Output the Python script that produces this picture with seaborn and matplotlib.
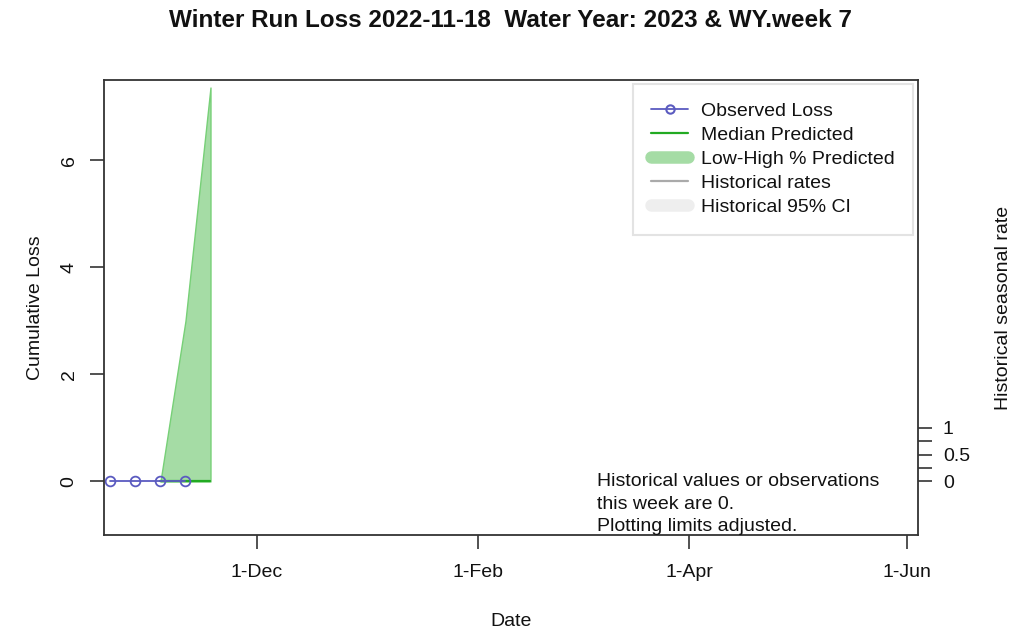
import pandas as pd
import matplotlib
matplotlib.use("Agg")
import matplotlib.pyplot as plt
from matplotlib.lines import Line2D
import seaborn as srn

# -------------------------------
# Dados
# -------------------------------
obs_datas = ["2022-10-21", "2022-10-28", "2022-11-04", "2022-11-11"]
obs_perda = [0, 0, 0, 0]

pred_datas = ["2022-11-04", "2022-11-11", "2022-11-18"]
pred_mediana = [0, 0, 0]
pred_baixo = [0, 0, 0]
pred_alto = [0, 3.0, 7.36]

x_ticks = ["2022-12-01", "2023-02-01", "2023-04-01", "2023-06-01"]
x_tick_labels = ["1-Dec", "1-Feb", "1-Apr", "1-Jun"]
y_ticks = [0, 2, 4, 6]
dir_ticks = [0, 0.25, 0.5, 0.75, 1]
dir_tick_labels = ["0", "", "0.5", "", "1"]

observado = pd.DataFrame({"Data": pd.to_datetime(obs_datas), "Perda": obs_perda})
previsto = pd.DataFrame({"Data": pd.to_datetime(pred_datas), "Mediana": pred_mediana,
                         "Baixo": pred_baixo, "Alto": pred_alto})

# -------------------------------
# Estilo
# -------------------------------
srn.set_style("white")
plt.rcParams["font.family"] = ["Liberation Sans", "DejaVu Sans"]
plt.rcParams["font.size"] = 14
plt.rcParams["text.color"] = "#111111"
plt.rcParams["axes.labelcolor"] = "#111111"
plt.rcParams["xtick.labelcolor"] = "#111111"
plt.rcParams["ytick.labelcolor"] = "#111111"

cor_obs = "#5B5BC0"
cor_med = "#22AA22"
cor_faixa = "#A5DCA5"

fig = plt.figure(figsize=(10.15, 6.33), dpi=100)
ax = fig.add_axes([0.1025, 0.1548, 0.8019, 0.7188])

# faixa baixo-alto
ax.fill_between(previsto["Data"], previsto["Baixo"], previsto["Alto"],
                facecolor=cor_faixa, edgecolor="#77D077", linewidth=1)
srn.lineplot(data=previsto, x="Data", y="Mediana", color=cor_med, linewidth=1.6, ax=ax)
srn.lineplot(data=observado, x="Data", y="Perda", color=cor_obs, linewidth=1.3,
             marker="o", markersize=7, markerfacecolor="none", markeredgecolor=cor_obs,
             markeredgewidth=1.3, ax=ax)

ax.set_xlim(pd.Timestamp("2022-10-19 05:00"), pd.Timestamp("2023-06-04"))
ax.set_ylim(-1.0, 7.5)
ax.set_xticks(pd.to_datetime(x_ticks))
ax.set_xticklabels(x_tick_labels)
ax.set_yticks(y_ticks)
ax.set_yticklabels([str(v) for v in y_ticks], rotation=90, va="center")
ax.set_xlabel("Date", labelpad=23)
ax.set_ylabel("Cumulative Loss", labelpad=12)
ax.tick_params(axis="both", direction="out", length=10, width=1.2, color="#333333",
               pad=11, left=True, bottom=True)
ax.tick_params(axis="y", pad=9)
for s in ax.spines.values():
    s.set_color("#333333")
    s.set_linewidth(1.3)

# eixo da direita
ax2 = ax.twinx()
ax2.set_ylim(ax.get_ylim())
ax2.set_yticks(dir_ticks)
ax2.set_yticklabels(dir_tick_labels)
ax2.tick_params(axis="y", direction="out", length=10, width=1.2, color="#333333",
                pad=8, right=True)
ax2.set_ylabel("Historical seasonal rate", labelpad=18, rotation=90)
for s in ax2.spines.values():
    s.set_visible(False)

ax.text(0.6057, 0.068,
        "Historical values or observations\nthis week are 0.\nPlotting limits adjusted.",
        transform=ax.transAxes, ha="left", va="center", linespacing=1.45, fontsize=14)

handles = [
    Line2D([], [], color=cor_obs, linewidth=1.3, marker="o", markersize=6,
           markerfacecolor="none", markeredgewidth=1.5),
    Line2D([], [], color=cor_med, linewidth=1.6),
    Line2D([], [], color=cor_faixa, linewidth=9, solid_capstyle="round"),
    Line2D([], [], color="#AAAAAA", linewidth=1.6),
    Line2D([], [], color="#EEEEEE", linewidth=9, solid_capstyle="round"),
]
rotulos = ["Observed Loss", "Median Predicted", "Low-High % Predicted",
           "Historical rates", "Historical 95% CI"]
leg = ax.legend(handles, rotulos, loc="upper right", bbox_to_anchor=(0.9939, 0.9912),
                borderaxespad=0, frameon=True, fancybox=False, handlelength=1.9,
                handletextpad=0.65, labelspacing=0.33, borderpad=0.95, fontsize=14)
leg.get_frame().set_edgecolor("#DDDDDD")
leg.get_frame().set_linewidth(1.5)

fig.suptitle("Winter Run Loss 2022-11-18  Water Year: 2023 & WY.week 7",
             fontsize=17.5, fontweight="bold", x=0.503, y=0.985)

fig.savefig("out.png", dpi=100)
